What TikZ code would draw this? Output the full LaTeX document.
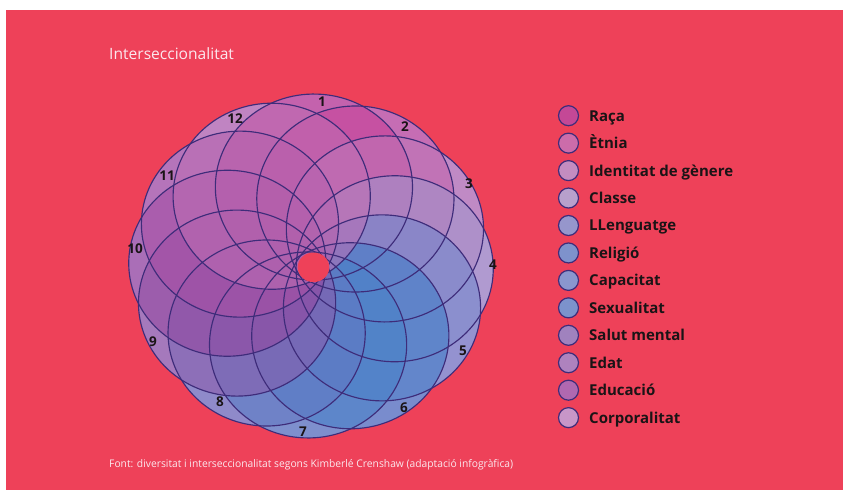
\documentclass[tikz,border=0pt]{standalone}
\usepackage{fontspec}
\setmainfont{Open Sans}
\usepackage{graphicx}
\definecolor{bgred}{HTML}{EE4159}
\definecolor{base}{HTML}{C4A0D4}
\definecolor{edge}{HTML}{3E2C7A}
\definecolor{titlec}{HTML}{FBE8EE}
\definecolor{inkc}{HTML}{1A1416}
% deep colours of the shapes
\definecolor{e1}{HTML}{C4308E}
\definecolor{e2}{HTML}{C8449A}
\definecolor{e3}{HTML}{BE78B9}
\definecolor{e4}{HTML}{A096CD}
\definecolor{e5}{HTML}{6E87CD}
\definecolor{e6}{HTML}{3C7DC8}
\definecolor{e7}{HTML}{4682C8}
\definecolor{e8}{HTML}{6478C3}
\definecolor{e9}{HTML}{8C5AAA}
\definecolor{e10}{HTML}{9646A0}
\definecolor{e11}{HTML}{AA50A5}
\definecolor{e12}{HTML}{BE6EB4}
% legend colours
\definecolor{l1}{HTML}{C44896}
\definecolor{l2}{HTML}{CC6CAA}
\definecolor{l3}{HTML}{C48CC0}
\definecolor{l4}{HTML}{B8A0CC}
\definecolor{l5}{HTML}{9696CC}
\definecolor{l6}{HTML}{7E92CC}
\definecolor{l7}{HTML}{8A96CE}
\definecolor{l8}{HTML}{7C92CC}
\definecolor{l9}{HTML}{A082BE}
\definecolor{l10}{HTML}{AE82BE}
\definecolor{l11}{HTML}{B068B0}
\definecolor{l12}{HTML}{C896C8}
\tikzset{
  numlabel/.style={font=\fontsize{13.5}{14}\selectfont\bfseries, text=inkc, inner sep=0pt},
  legdot/.style={draw=edge, line width=1.2pt, circle, minimum size=20pt, inner sep=0pt},
  legtext/.style={font=\fontsize{15}{16}\selectfont\bfseries, text=inkc, inner sep=0pt, anchor=base west},
  petal/.style={line width=1.15pt, draw=edge}
}
\begin{document}
\begin{tikzpicture}[x=1pt,y=-1pt]
\useasboundingbox (0,0) rectangle (843,490);
\fill[white] (0,0) rectangle (843,490);
\fill[bgred] (6,10) rectangle (843,490);

\node[anchor=base west, inner sep=0pt, text=titlec, font=\fontsize{15.6}{17}\selectfont] (title) at (109,59) {Interseccionalitat};

% rosette: twelve circles, rotated in steps of 30 degrees
\begin{scope}[shift={(311,266)}, xscale=1.06]
  \foreach \k in {1,...,12} {
    \pgfmathsetmacro\ang{88-30*(\k-1)}
    \fill[base, rotate=\ang] (79,0) circle [radius=93];
  }
  \foreach \k in {1,...,12} {
    \pgfmathsetmacro\ang{88-30*(\k-1)}
    \fill[e\k, opacity=0.55, rotate=\ang] (79,0) circle [radius=93];
  }
  \foreach \k in {1,...,12} {
    \pgfmathsetmacro\ang{88-30*(\k-1)}
    \draw[petal, rotate=\ang] (79,0) circle [radius=93];
  }
\end{scope}
\fill[bgred] (313.5,267.3) ellipse [x radius=15.8, y radius=14.8];

% numbers
\foreach \n/\px/\py in {1/322/102, 2/405/127, 3/469/184, 4/493/265, 5/463/351, 6/404/408,
                         7/303/432, 8/220/402, 9/153/342, 10/135/249, 11/167/176, 12/235/119} {
  \node[numlabel] (n\n) at (\px,\py) {\n};
}

% legend
\foreach \k/\txt in {1/Raça, 2/Ètnia, 3/Identitat de gènere, 4/Classe, 5/LLenguatge, 6/Religió,
                      7/Capacitat, 8/Sexualitat, 9/Salut mental, 10/Edat, 11/Educació, 12/Corporalitat} {
  \pgfmathsetmacro\yy{115.7+27.45*(\k-1)}
  \node[legdot, fill=l\k] (d\k) at (568.5,\yy) {};
  \node[legtext] (t\k) at (589,\yy+5.4) {\txt};
}

\node[anchor=base west, inner sep=0pt, text=titlec] (src) at (109,467.3)
  {\scalebox{0.98}[1]{\fontsize{10.5}{12}\selectfont Font: diversitat i interseccionalitat segons Kimberlé Crenshaw (adaptació infogràfica)}};
\end{tikzpicture}
\end{document}
